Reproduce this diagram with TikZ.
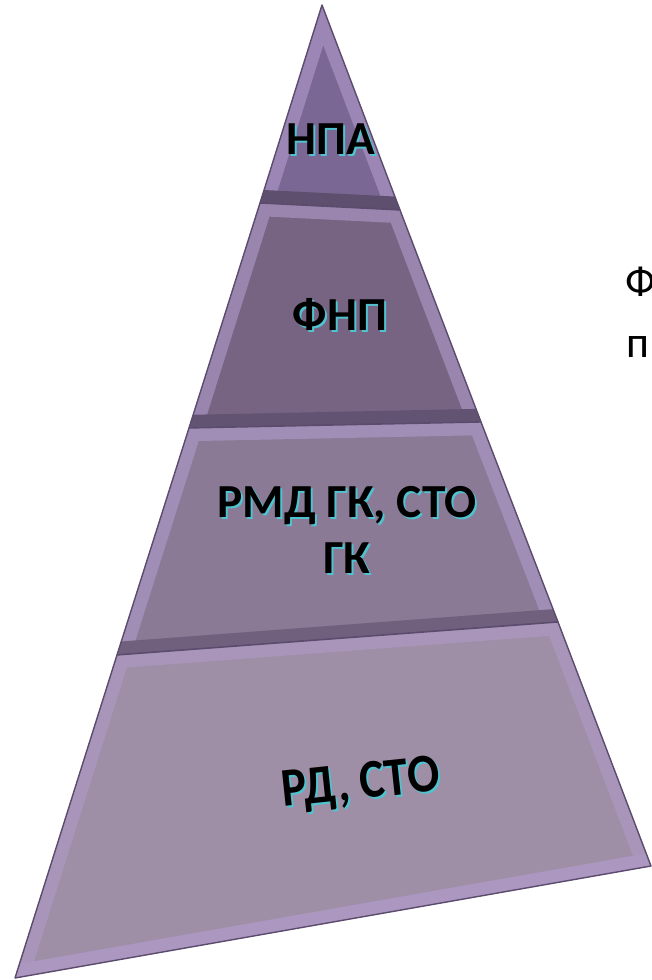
\documentclass[tikz,border=0pt]{standalone}
\usepackage{fontspec}
\setmainfont{Carlito}
\usetikzlibrary{positioning}
\definecolor{PyrEdge}{HTML}{5B4B6C}
\definecolor{PyrLight}{HTML}{B19BCB}
\definecolor{PyrDark}{HTML}{5E4F6F}
\definecolor{FaceNpa}{HTML}{7B6793}
\definecolor{FaceFnp}{HTML}{776482}
\definecolor{FaceRmd}{HTML}{8A7A96}
\definecolor{FaceRd}{HTML}{9E8FA6}
\definecolor{GlowCyan}{HTML}{4FC3D0}

\begin{document}
\begin{tikzpicture}[x=0.02cm, y=-0.02cm,
    bevel/.style={line width=15pt, line join=round},
    edge/.style={draw=PyrEdge, line width=0.8pt, line join=round},
    lbl/.style={font=\bfseries\fontsize{27}{32}\selectfont, inner sep=0pt, align=center},
    lblshade/.style={lbl, text=GlowCyan},
    sidetext/.style={font=\fontsize{25}{30}\selectfont, inner sep=0pt, anchor=base west}]
    \useasboundingbox (0,0) rectangle (652,980);
    \fill[white] (0,0) rectangle (652,980);

    % corners of the tiers
    \coordinate (A) at (322,5);
    \coordinate (t1l) at (260,203);  \coordinate (t1r) at (400,210);
    \coordinate (t2bl) at (189,428); \coordinate (t2br) at (481,422);
    \coordinate (t3bl) at (117,655); \coordinate (t3br) at (558,622);
    \coordinate (t4bl) at (15,978);  \coordinate (t4br) at (651,866);

    % Tier 1: top
    \begin{scope}
        \clip (A) -- (t1r) -- (t1l) -- cycle;
        \fill[FaceNpa] (A) -- (t1r) -- (t1l) -- cycle;
        \draw[bevel, PyrLight!60!FaceNpa] (t1l) -- (A) -- (t1r);
        \draw[bevel, PyrDark] (t1l) -- (t1r);
    \end{scope}
    \draw[edge] (A) -- (t1r) -- (t1l) -- cycle;

    % Tier 2
    \begin{scope}
        \clip (t1l) -- (t1r) -- (t2br) -- (t2bl) -- cycle;
        \fill[FaceFnp] (t1l) -- (t1r) -- (t2br) -- (t2bl) -- cycle;
        \draw[bevel, PyrLight!60!FaceFnp] (t2bl) -- (t1l) -- (t1r) -- (t2br);
        \draw[bevel, PyrDark!80!FaceFnp] (t2bl) -- (t2br);
    \end{scope}
    \draw[edge] (t1l) -- (t1r) -- (t2br) -- (t2bl) -- cycle;

    % Tier 3
    \begin{scope}
        \clip (t2bl) -- (t2br) -- (t3br) -- (t3bl) -- cycle;
        \fill[FaceRmd] (t2bl) -- (t2br) -- (t3br) -- (t3bl) -- cycle;
        \draw[bevel, PyrLight!60!FaceRmd] (t3bl) -- (t2bl) -- (t2br) -- (t3br);
        \draw[bevel, PyrDark!60!FaceRmd] (t3bl) -- (t3br);
    \end{scope}
    \draw[edge] (t2bl) -- (t2br) -- (t3br) -- (t3bl) -- cycle;

    % Tier 4: base
    \begin{scope}
        \clip (t3bl) -- (t3br) -- (t4br) -- (t4bl) -- cycle;
        \fill[FaceRd] (t3bl) -- (t3br) -- (t4br) -- (t4bl) -- cycle;
        \draw[bevel, PyrLight!50!FaceRd] (t4bl) -- (t3bl) -- (t3br) -- (t4br);
        \draw[bevel, PyrLight!70!FaceRd] (t4bl) -- (t4br);
    \end{scope}
    \draw[edge] (t3bl) -- (t3br) -- (t4br) -- (t4bl) -- cycle;

    % Labels with cyan glow
    \node[lblshade] (npashade) at (333,141) {НПА};
    \node[lbl] (npa) at (331,139) {НПА};
    \node[lblshade] (fnpshade) at (342,316) {ФНП};
    \node[lbl] (fnp) at (340,314) {ФНП};
    \node[lblshade] (rmdshade) at (349,532) {РМД ГК, СТО\\ГК};
    \node[lbl] (rmd) at (347,530) {РМД ГК, СТО\\ГК};
    \node[lblshade, rotate=6, yscale=1.15] (rdshade) at (363,787) {РД, СТО};
    \node[lbl, rotate=6, yscale=1.15] (rd) at (361,785) {РД, СТО};

    % text cut off at the right edge
    \node[sidetext] (sidef) at (625,296) {Ф};
    \node[sidetext] (sidep) at (626,357) {п};
\end{tikzpicture}
\end{document}
